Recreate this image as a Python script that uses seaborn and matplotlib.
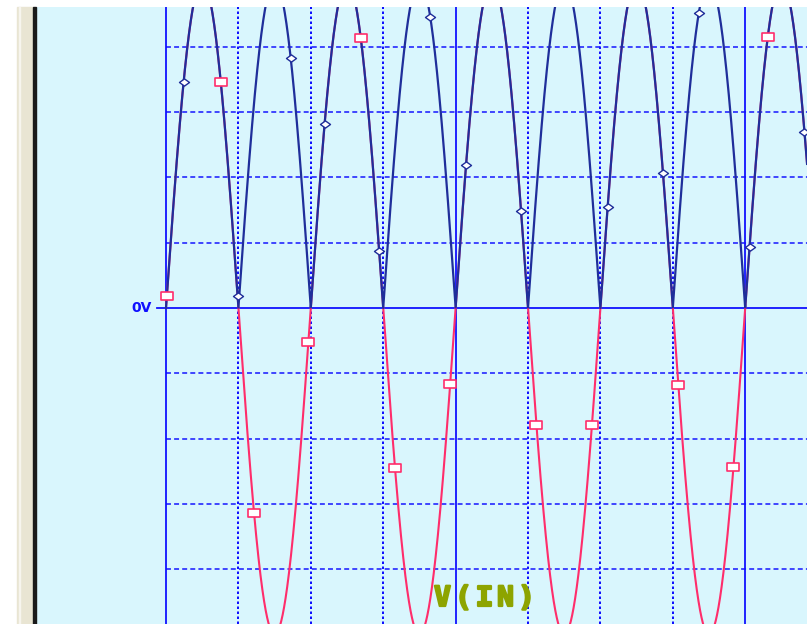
import numpy as np
import pandas as pd
import seaborn as sns
import matplotlib.pyplot as plt
import matplotlib.patheffects as pe
from matplotlib.path import Path
from matplotlib.patches import Rectangle

# V(IN) source: sine, 5 V peak, 50 Hz -> 10 ms per division
amplitude_v = 5.0
freq_hz = 50.0
t_end_ms = 90.0

# marker times (ms)
vin_marker_ms = [0.12, 7.57, 12.16, 19.67, 26.90, 31.63, 39.25,
                 51.17, 58.83, 70.76, 78.38, 83.12]
rect_marker_ms = [2.44, 9.88, 17.22, 21.90, 29.44, 36.49, 41.44,
                  49.04, 61.00, 68.64, 73.58, 80.60, 88.19]

# grid
major_ms = [0, 40, 80]
minor_ms = [10, 20, 30, 50, 60, 70]
volt_grid = [-4, -3, -2, -1, 1, 2, 3, 4]

W, H = 807, 624
PX_MS = 7.24      # pixels per ms
PX_V = 65.3       # pixels per volt
X0, Y0 = 166, 308  # pixel of t=0, 0V
LEFT, TOP = 36, 7

GRID = "#1010ff"
BLUE = "#1f2e9a"
RED = "#ff2d6b"
BG = "#d9f6fd"


def vin(t_ms):
    return amplitude_v * np.sin(2 * np.pi * freq_hz * np.asarray(t_ms) / 1000.0)


t = np.linspace(0, t_end_ms, 6001)
df = pd.DataFrame({"t": t, "V(IN)": vin(t), "V(OUT)": np.abs(vin(t))})
mk_in = pd.DataFrame({"t": vin_marker_ms, "v": vin(vin_marker_ms)})
mk_out = pd.DataFrame({"t": rect_marker_ms, "v": np.abs(vin(rect_marker_ms))})

fig = plt.figure(figsize=(W / 100, H / 100), dpi=100)
fig.patch.set_facecolor("white")

# window frame on the left
fig.patches.append(Rectangle((17 / W, 0), 16 / W, (H - TOP) / H,
                             transform=fig.transFigure, color="#e9e5d3", zorder=0))
fig.patches.append(Rectangle((19 / W, 0), 1.2 / W, (H - TOP) / H,
                             transform=fig.transFigure, color="#f7f5ee", zorder=0))
fig.patches.append(Rectangle((33 / W, 0), 2.5 / W, (H - TOP) / H,
                             transform=fig.transFigure, color="#1a1a1a", zorder=0))

ax = fig.add_axes([LEFT / W, 0, (W - LEFT) / W, (H - TOP) / H])
ax.set_facecolor(BG)
ax.set_xlim((LEFT - X0) / PX_MS, (W - X0) / PX_MS)
ax.set_ylim(-(H - Y0) / PX_V, (Y0 - TOP) / PX_V)
for s in ax.spines.values():
    s.set_visible(False)
ax.set_xticks([])
ax.set_yticks([])

px = 0.72  # points per pixel
for x in major_ms:
    ax.axvline(x, color=GRID, lw=1.8 * px, zorder=1)
for x in minor_ms:
    ax.axvline(x, color=GRID, lw=2.0 * px, ls=(0, (1.25, 1.25)), zorder=1)
xr = ax.get_xlim()[1]
for v in volt_grid:
    ax.plot([0, xr], [v, v], color=GRID, lw=1.5 * px, ls=(0, (3.3, 2.1)), zorder=1)
ax.plot([-9 / PX_MS, xr], [0, 0], color=GRID, lw=1.8 * px, zorder=1)

sns.lineplot(data=df, x="t", y="V(IN)", ax=ax, color=RED, lw=1.5,
             estimator=None, sort=False, zorder=2)
sns.lineplot(data=df, x="t", y="V(OUT)", ax=ax, color=BLUE, lw=1.6,
             estimator=None, sort=False, zorder=3)

diamond = Path([(-1, 0), (0, 0.72), (1, 0), (0, -0.72), (-1, 0)],
               [Path.MOVETO, Path.LINETO, Path.LINETO, Path.LINETO, Path.CLOSEPOLY])
square = Path([(-1, -0.62), (1, -0.62), (1, 0.62), (-1, 0.62), (-1, -0.62)],
              [Path.MOVETO, Path.LINETO, Path.LINETO, Path.LINETO, Path.CLOSEPOLY])
sns.scatterplot(data=mk_out, x="t", y="v", ax=ax, marker=diamond, s=52,
                facecolor="white", edgecolor=BLUE, linewidth=1.0, zorder=4)
sns.scatterplot(data=mk_in, x="t", y="v", ax=ax, marker=square, s=72,
                facecolor="white", edgecolor=RED, linewidth=1.2, zorder=5)
ax.set_xlabel("")
ax.set_ylabel("")

ax.text(-1.9, 0, "0V", ha="right", va="center", color=GRID, fontsize=10,
        fontweight="bold", family="DejaVu Sans", clip_on=False, zorder=6)

for i, ch in enumerate("V(IN)"):
    fig.text((442.5 + 21 * i) / W, 1 - 598 / H, ch, ha="center", va="center",
             color="#8da400", fontsize=20, fontweight="bold",
             family="DejaVu Sans Mono", zorder=6,
             path_effects=[pe.withStroke(linewidth=1.6, foreground="#8da400")])

fig.savefig("out.png", dpi=100, facecolor=fig.get_facecolor())
